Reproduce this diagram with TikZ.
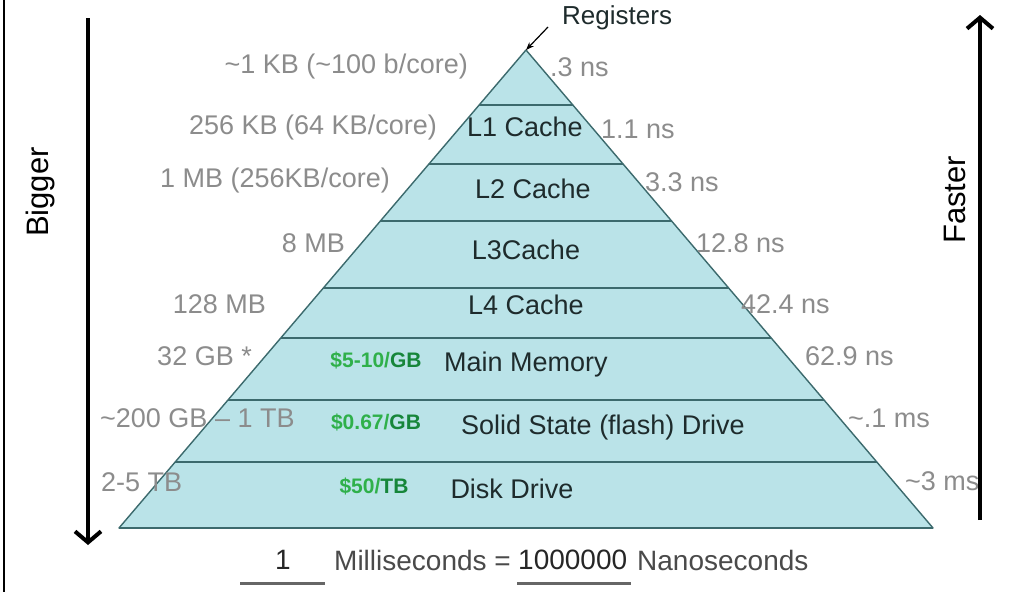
\documentclass[tikz,border=0pt]{standalone}
\usepackage{fontspec}
\setmainfont{Liberation Sans}
\usetikzlibrary{arrows.meta}
\definecolor{pyrfill}{HTML}{BAE3E8}
\definecolor{pyrline}{HTML}{3C6A6D}
\definecolor{lblgray}{HTML}{8C8C8C}
\definecolor{bandtxt}{HTML}{1E2B2C}
\definecolor{pricelt}{HTML}{2FB04A}
\definecolor{pricedk}{HTML}{16863A}
\definecolor{foottxt}{HTML}{4A4A4A}
\begin{document}
\begin{tikzpicture}[x=1pt,y=-1pt,
  graylbl/.style={text=lblgray,font=\fontsize{27}{29}\selectfont,inner sep=0pt},
  bandlbl/.style={text=bandtxt,font=\fontsize{27}{29}\selectfont,inner sep=0pt},
  price/.style={font=\fontsize{21}{23}\selectfont\bfseries,inner sep=0pt},
  sepline/.style={draw=pyrline,line width=2.2pt},
  bigarrow/.style={line width=4pt,-{Straight Barb[length=11pt,width=26pt]}},
  sidelbl/.style={font=\fontsize{31}{33}\selectfont,rotate=90,inner sep=0pt},
  uline/.style={draw=black!60,line width=3pt},
  foot/.style={text=foottxt,font=\fontsize{28}{30}\selectfont,inner sep=0pt},
]
\useasboundingbox (0,0) rectangle (1034,592);
\fill[white] (0,0) rectangle (1034,592);
% left frame line
\draw[line width=2pt] (4,0) -- (4,592);

% pyramid
\coordinate (apex) at (526,50);
\coordinate (bl) at (119,528);
\coordinate (br) at (933,528);
\draw[fill=pyrfill,draw=pyrline,line width=1.4pt,line join=round] (apex) -- (bl) -- (br) -- cycle;
\draw[sepline] (479.2,105) -- (572.8,105);
\draw[sepline] (428.9,164) -- (623.1,164);
\draw[sepline] (380.4,221) -- (671.6,221);
\draw[sepline] (323.4,288) -- (728.6,288);
\draw[sepline] (280.8,338) -- (771.2,338);
\draw[sepline] (228.0,400) -- (824.0,400);
\draw[sepline] (175.2,462) -- (876.8,462);
\draw[sepline] (bl) -- (br);

% band labels
\node[bandlbl] (l1) at (525,127) {L1 Cache};
\node[bandlbl] (l2) at (533,189) {L2 Cache};
\node[bandlbl] (l3) at (526,250) {L3Cache};
\node[bandlbl] (l4) at (526,305) {L4 Cache};
\node[bandlbl] (mm) at (526,365) {Main Memory};
\node[bandlbl] (ssd) at (603,428) {Solid State (flash) Drive};
\node[bandlbl] (dd) at (512,489) {Disk Drive};

% prices
\node[price] (p1) at (376,360) {\textcolor{pricelt}{\$5-10/}\textcolor{pricedk}{GB}};
\node[price] (p2) at (376,422) {\textcolor{pricelt}{\$0.67/}\textcolor{pricedk}{GB}};
\node[price] (p3) at (374,486) {\textcolor{pricelt}{\$50/}\textcolor{pricedk}{TB}};

% left size labels
\node[graylbl,anchor=east] (s0) at (468,67) {\textasciitilde1 KB (\textasciitilde100 b/core)};
\node[graylbl,anchor=east] (s1) at (437,128) {256 KB (64 KB/core)};
\node[graylbl,anchor=east] (s2) at (390,181) {1 MB (256KB/core)};
\node[graylbl,anchor=east] (s3) at (345,243) {8 MB};
\node[graylbl,anchor=east] (s4) at (266,304) {128 MB};
\node[graylbl,anchor=east] (s5) at (252,356) {32 GB *};
\node[graylbl,anchor=west] (s6) at (100,418) {\textasciitilde200 GB -- 1 TB};
\node[graylbl,anchor=west] (s7) at (101,482) {2-5 TB};

% right latency labels
\node[graylbl,anchor=west] (t0) at (550,67) {.3 ns};
\node[graylbl,anchor=west] (t1) at (601,129) {1.1 ns};
\node[graylbl,anchor=west] (t2) at (645,182) {3.3 ns};
\node[graylbl,anchor=west] (t3) at (696,243) {12.8 ns};
\node[graylbl,anchor=west] (t4) at (741,304) {42.4 ns};
\node[graylbl,anchor=west] (t5) at (805,356) {62.9 ns};
\node[graylbl,anchor=west] (t6) at (848,418) {\textasciitilde.1 ms};
\node[graylbl,anchor=west] (t7) at (905,481) {\textasciitilde3 ms};

% registers
\node[text=bandtxt,font=\fontsize{26}{28}\selectfont,inner sep=0pt,anchor=west] (reg) at (562,18) {Registers};
\coordinate (regtail) at (548,27);
\draw[line width=1.2pt,-{Stealth[length=8pt,width=6pt]}] (regtail) -- (apex);

% side arrows
\coordinate (bigtop) at (88,18);
\coordinate (bigbot) at (88,545);
\draw[bigarrow] (bigtop) -- (bigbot);
\node[sidelbl] (bigger) at (40,192) {Bigger};
\coordinate (fastbot) at (980,520);
\coordinate (fasttop) at (980,15);
\draw[bigarrow] (fastbot) -- (fasttop);
\node[sidelbl] (faster) at (955,200) {Faster};

% footer
\node[foot,text=black!85] (one) at (283,560) {1};
\node[foot,anchor=west] (msec) at (334,560) {Milliseconds =};
\node[foot,text=black!85,anchor=west] (mil) at (518,560) {1000000};
\node[foot,anchor=west] (nsec) at (637,560) {Nanoseconds};
\draw[uline] (240,583) -- (325,583);
\draw[uline] (517,583) -- (631,583);
\end{tikzpicture}
\end{document}
